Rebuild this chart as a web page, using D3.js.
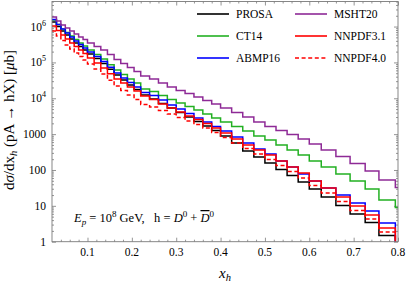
<!doctype html>
<html>
<head>
<meta charset="utf-8">
<script src="https://d3js.org/d3.v7.min.js"></script>
<style>
    body { margin: 0; background: #fff; }
    text { font-family: "Liberation Serif", "Times New Roman", serif; fill: #000; }
</style>
</head>
<body>
<svg width="407" height="282"></svg>
<script>
// left edges of the histogram bins (x_h), last bin closes at xEnd
var xEdges = [0.02, 0.03, 0.04, 0.05, 0.06, 0.07, 0.08, 0.09,
              0.10, 0.115, 0.13, 0.145, 0.16, 0.175, 0.19, 0.205,
              0.22, 0.24, 0.26, 0.28, 0.30, 0.32, 0.34, 0.36, 0.38,
              0.40, 0.425, 0.45, 0.475, 0.5, 0.525, 0.55, 0.575, 0.6,
              0.627, 0.66, 0.692, 0.726, 0.757, 0.794];
var xEnd = 0.8;

// d sigma / dx_h [mu b], one value per bin
var prosa = [1.33e6, 9.98e5, 7.48e5, 5.78e5, 4.48e5, 3.47e5, 2.77e5, 2.21e5, 1.71e5, 1.28e5,
             9.29e4, 6.47e4, 4.44e4, 3.22e4, 2.34e4, 1.75e4, 1.23e4, 9510, 7130, 5340,
             4000, 2990, 2240, 1680, 1260, 885, 565, 338, 230, 156,
             103, 70.1, 46.1, 29.4, 17.6, 10.2, 5.92, 3.43, 1.49, 0.5];
var ct14 = [1.52e6, 1.14e6, 8.51e5, 6.79e5, 5.43e5, 4.34e5, 3.47e5, 2.86e5, 2.21e5, 1.65e5,
            1.24e5, 8.64e4, 6.12e4, 4.58e4, 3.44e4, 2.66e4, 1.80e4, 1.54e4, 1.19e4, 9210,
            7360, 5880, 4700, 3630, 2810, 2170, 1630, 1220, 885, 684,
            497, 360, 261, 178, 121, 77.1, 49.2, 29.4, 14.5, 8.98];
var abmp16 = [1.57e6, 1.14e6, 8.51e5, 6.58e5, 5.09e5, 3.94e5, 3.15e5, 2.51e5, 1.94e5, 1.46e5,
              1.06e5, 7.36e4, 5.05e4, 3.66e4, 2.75e4, 2.06e4, 1.46e4, 1.19e4, 8900, 6470,
              5000, 3750, 2810, 2170, 1630, 1220, 830, 565, 384, 279,
              178, 121, 77.1, 49.2, 31.4, 20.0, 12.0, 7.18, 3.32, 0.5];
var msht20 = [1.84e6, 1.42e6, 1.10e6, 9.07e5, 7.48e5, 6.17e5, 5.09e5, 4.34e5, 3.47e5, 2.77e5,
              2.21e5, 1.65e5, 1.21e5, 9.33e4, 7.19e4, 5.56e4, 4.16e4, 3.43e4, 2.66e4, 2.05e4,
              1.64e4, 1.35e4, 1.08e4, 8630, 6900, 5340, 4000, 2990, 2170, 1630,
              1260, 975, 730, 530, 360, 237, 151, 93.5, 52.5, 32.4];
var nnpdf31 = [1.03e6, 7.73e5, 5.78e5, 4.48e5, 3.47e5, 2.77e5, 2.21e5, 1.77e5, 1.32e5, 9.59e4,
               6.96e4, 4.85e4, 3.44e4, 2.66e4, 2.06e4, 1.59e4, 1.15e4, 9210, 6900, 5340,
               4130, 3190, 2550, 1970, 1480, 1070, 730, 497, 360, 261,
               178, 121, 82.3, 49.2, 31.4, 17.6, 9.89, 5.55, 2.41, 0.5];
var nnpdf40 = [7.48e5, 5.43e5, 4.06e5, 3.05e5, 2.36e5, 1.82e5, 1.46e5, 1.16e5, 9.0e4, 6.53e4,
               4.73e4, 3.19e4, 2.19e4, 1.65e4, 1.23e4, 9240, 6690, 5690, 4550, 3630,
               2900, 2320, 1850, 1480, 1110, 804, 565, 396, 279, 196,
               133, 90.6, 59.7, 36.9, 22.8, 13.2, 7.41, 4.30, 1.86, 0.5];

var xTicks = [0.1, 0.2, 0.3, 0.4, 0.5, 0.6, 0.7, 0.8];
var yTicks = [1, 10, 100, 1000, 1e4, 1e5, 1e6];
var yTickBase = ["1", "10", "100", "1000", "10", "10", "10"];
var yTickExp = ["", "", "", "", "4", "5", "6"];

var svg = d3.select("svg"),
    pLeft = 52, pRight = 398, pTop = 1.5, pBottom = 241.7;

var x = d3.scaleLinear().domain([0.02, 0.8]).range([pLeft, pRight]);
var y = d3.scaleLog().domain([1, 5e6]).range([pBottom, pTop]);

var frameColor = "#7a7a7a";

// minor ticks
var xMinor = d3.range(0.04, 0.8, 0.02).filter(function(v) { return Math.abs(v * 10 - Math.round(v * 10)) > 1e-6; });
var yMinor = [];
yTicks.forEach(function(t) { for (var k = 2; k <= 9; k++) if (t * k <= 5e6) yMinor.push(t * k); });

function tickAxis(axis, tr, size, vals) {
    var g = svg.append("g").attr("transform", tr)
        .call(axis.tickValues(vals).tickSize(size).tickFormat(""));
    g.select(".domain").remove();
    g.selectAll("line").attr("stroke", frameColor).attr("stroke-width", 0.8);
}
tickAxis(d3.axisBottom(x), "translate(0," + pBottom + ")", -4, xTicks);
tickAxis(d3.axisBottom(x), "translate(0," + pBottom + ")", -2, xMinor);
tickAxis(d3.axisTop(x), "translate(0," + pTop + ")", -4, xTicks);
tickAxis(d3.axisTop(x), "translate(0," + pTop + ")", -2, xMinor);
tickAxis(d3.axisLeft(y), "translate(" + pLeft + ",0)", -4, yTicks);
tickAxis(d3.axisLeft(y), "translate(" + pLeft + ",0)", -2, yMinor);
tickAxis(d3.axisRight(y), "translate(" + pRight + ",0)", -4, yTicks);
tickAxis(d3.axisRight(y), "translate(" + pRight + ",0)", -2, yMinor);

// data
svg.append("clipPath").attr("id", "plotclip").append("rect")
    .attr("x", pLeft).attr("y", pTop).attr("width", pRight - pLeft).attr("height", pBottom - pTop);

var series = [
    { name: "PROSA", values: prosa, color: "#000000", dash: null },
    { name: "CT14", values: ct14, color: "#22b022", dash: null },
    { name: "ABMP16", values: abmp16, color: "#0000ff", dash: null },
    { name: "MSHT20", values: msht20, color: "#8e2a96", dash: null },
    { name: "NNPDF3.1", values: nnpdf31, color: "#ff0000", dash: null },
    { name: "NNPDF4.0", values: nnpdf40, color: "#ff0000", dash: "4,2.6" }
];

var line = d3.line()
    .x(function(d) { return x(d[0]); })
    .y(function(d) { return y(Math.max(d[1], 0.3)); })
    .curve(d3.curveStepAfter);

var plot = svg.append("g").attr("clip-path", "url(#plotclip)");
series.forEach(function(s) {
    var pts = xEdges.map(function(e, i) { return [e, s.values[i]]; });
    pts.push([xEnd, s.values[s.values.length - 1]]);
    plot.append("path")
        .attr("d", line(pts))
        .attr("fill", "none")
        .attr("stroke", s.color)
        .attr("stroke-width", 1.5)
        .attr("stroke-dasharray", s.dash);
});

// frame
svg.append("rect")
    .attr("x", pLeft).attr("y", pTop).attr("width", pRight - pLeft).attr("height", pBottom - pTop)
    .attr("fill", "none").attr("stroke", frameColor).attr("stroke-width", 0.9);

// tick labels
svg.selectAll(".xl").data(xTicks).enter().append("text")
    .attr("x", function(d) { return x(d); })
    .attr("y", 256)
    .attr("text-anchor", "middle")
    .style("font-size", "11.5px")
    .text(function(d) { return d.toFixed(1); });

yTicks.forEach(function(t, i) {
    var tx = svg.append("text")
        .attr("x", 46).attr("y", y(t) + 4)
        .attr("text-anchor", "end")
        .style("font-size", "11.5px");
    tx.append("tspan").text(yTickBase[i]);
    if (yTickExp[i]) tx.append("tspan").attr("dy", -5).style("font-size", "8px").text(yTickExp[i]);
});

// axis titles
var xt = svg.append("text").attr("x", 225).attr("y", 278).attr("text-anchor", "middle").style("font-size", "15px");
xt.append("tspan").style("font-style", "italic").text("x");
xt.append("tspan").attr("dy", 3).style("font-size", "10.5px").style("font-style", "italic").text("h");

var yt = svg.append("text").attr("transform", "translate(14,120) rotate(-90)")
    .attr("text-anchor", "middle").style("font-size", "15px");
yt.append("tspan").text("d");
yt.append("tspan").style("font-style", "italic").text("σ");
yt.append("tspan").text("/dx");
yt.append("tspan").attr("dy", 2.5).style("font-size", "10.5px").style("font-style", "italic").text("h");
yt.append("tspan").attr("dy", -2.5).text(" (pA → hX) [");
yt.append("tspan").style("font-style", "italic").text("μ");
yt.append("tspan").text("b]");

// annotation
var an = svg.append("text").attr("x", 74).attr("y", 222).style("font-size", "12.5px");
an.append("tspan").style("font-style", "italic").text("E");
an.append("tspan").attr("dy", 3).style("font-size", "9px").style("font-style", "italic").text("p");
an.append("tspan").attr("dy", -3).text(" = 10");
an.append("tspan").attr("dy", -5).style("font-size", "9px").text("8");
an.append("tspan").attr("dy", 5).text(" GeV,\u00a0\u00a0 h = ");
an.append("tspan").style("font-style", "italic").text("D");
an.append("tspan").attr("dy", -5).style("font-size", "9px").text("0");
an.append("tspan").attr("dy", 5).text(" + ");
an.append("tspan").style("font-style", "italic").style("text-decoration", "overline").text("D");
an.append("tspan").attr("dy", -5).style("font-size", "9px").text("0");

// legend
var legPos = [[197, 14], [197, 36], [197, 58], [295, 14], [295, 36], [295, 58]];
series.forEach(function(s, i) {
    var p = legPos[i];
    svg.append("line")
        .attr("x1", p[0]).attr("x2", p[0] + 32)
        .attr("y1", p[1]).attr("y2", p[1])
        .attr("stroke", s.color).attr("stroke-width", 1.6)
        .attr("stroke-dasharray", s.dash);
    svg.append("text")
        .attr("x", p[0] + 39).attr("y", p[1] + 4)
        .style("font-size", "11.5px")
        .text(s.name);
});
</script>
</body>
</html>
